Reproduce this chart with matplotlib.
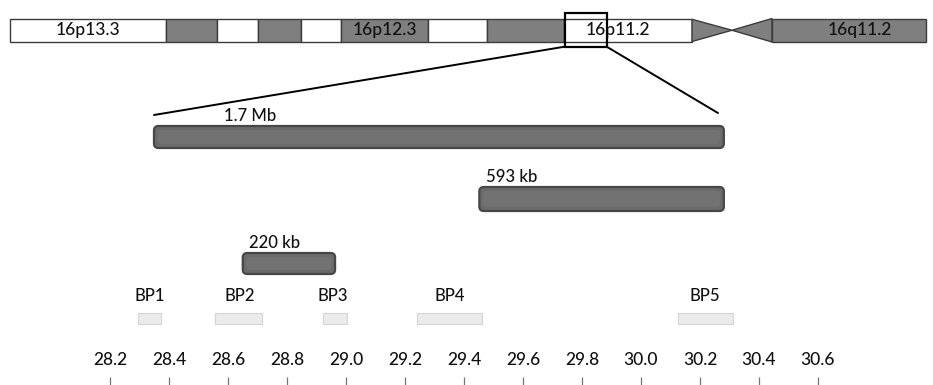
import matplotlib.pyplot as plt
from matplotlib.patches import Rectangle, FancyBboxPatch, Polygon, ConnectionPatch

plt.rcParams['font.family'] = ['Lato', 'DejaVu Sans']

# ideogram of chromosome 16 (drawing units, not to scale)
band_edges = [10, 166, 217, 258, 301, 341, 428, 487, 564, 692]
band_fill = ['white', 'gray', 'white', 'gray', 'white', 'gray', 'white', 'gray', 'white']
band_names = {0: '16p13.3', 5: '16p12.3', 8: '16p11.2'}
cen_left, cen_mid, cen_right = 692, 732, 772
q_end = 926
q_name = '16q11.2'
zoom_band = (564.5, 606.7)

# region in Mb
mb_ticks = [28.2, 28.4, 28.6, 28.8, 29.0, 29.2, 29.4, 29.6, 29.8, 30.0, 30.2, 30.4, 30.6]
del_names = ['1.7 Mb', '593 kb', '220 kb']
del_start = [28.349, 29.452, 28.650]
del_end = [30.281, 30.281, 28.963]
bp_names = ['BP1', 'BP2', 'BP3', 'BP4', 'BP5']
bp_start = [28.296, 28.556, 28.923, 29.240, 30.126]
bp_end = [28.373, 28.716, 29.002, 29.460, 30.313]

GRAY = '#7f7f7f'
EDGE = '#3c3c3c'
TXT = dict(color='#111111', fontweight='medium')

fig = plt.figure(figsize=(9.33, 3.85), dpi=100)

# main axis: x in Mb, y in pixel rows
ax = fig.add_axes([0, 0, 1, 1])
ax.set_xlim(27.827, 30.990)
ax.set_ylim(385, 0)
ax.axis('off')
px = 295.0  # pixels per Mb

del_rows = [(126, 148), (187, 211), (253, 274)]
del_label_x = [250, 512, 275]
for name, s, e, (y0, y1), lx in zip(del_names, del_start, del_end, del_rows, del_label_x):
    bar = FancyBboxPatch((s, y0), e - s, y1 - y0,
                         boxstyle='round,pad=0,rounding_size=0.015',
                         mutation_aspect=px, facecolor='#6a6a6a',
                         edgecolor='#474747', linewidth=1.6, zorder=3)
    ax.add_patch(bar)
    inner = FancyBboxPatch((s + 0.012, y0 + 4), e - s - 0.024, y1 - y0 - 8,
                           boxstyle='round,pad=0,rounding_size=0.01',
                           mutation_aspect=px, facecolor='#727272',
                           edgecolor='none', zorder=3)
    ax.add_patch(inner)
    ax.text(27.827 + lx / px, y0 - 10, name, ha='center', va='center',
            fontsize=12, **TXT)

label_centers = [150, 240, 333, 450, 705]
for name, s, e, lx in zip(bp_names, bp_start, bp_end, label_centers):
    ax.add_patch(Rectangle((s, 313), e - s, 10.5, facecolor='#ebebeb',
                           edgecolor='#d4d4d4', linewidth=0.8))
    ax.text(27.827 + lx / px, 296, name, ha='center', va='center',
            fontsize=12, **TXT)

for t in mb_ticks:
    ax.text(t, 360, f'{t:.1f}', ha='center', va='center', fontsize=12.5, **TXT)
ax.vlines(mb_ticks, 377, 385, color='#777777', linewidth=0.9)

# ideogram axis on top
axi = fig.add_axes([0, 1 - 55 / 385, 1, 55 / 385])
axi.set_xlim(0, 933)
axi.set_ylim(55, 0)
axi.axis('off')
top, bot = 18.5, 42

for i, fill in enumerate(band_fill):
    x0, x1 = band_edges[i], band_edges[i + 1]
    axi.add_patch(Rectangle((x0, top), x1 - x0, bot - top,
                            facecolor=GRAY if fill == 'gray' else 'white',
                            edgecolor=EDGE, linewidth=1.0))
    if i in band_names:
        axi.text((x0 + x1) / 2 - (10 if i == 8 else 0), 30.5, band_names[i],
                 ha='center', va='center', fontsize=12.5, **TXT)

mid_y = (top + bot) / 2
axi.add_patch(Polygon([(cen_left, top + 0.8), (cen_mid, mid_y), (cen_left, bot - 0.5)],
                      closed=True, facecolor=GRAY, edgecolor=EDGE, linewidth=1.0))
axi.add_patch(Polygon([(cen_right, top), (cen_mid, mid_y), (cen_right, bot)],
                      closed=True, facecolor=GRAY, edgecolor=EDGE, linewidth=1.0))
axi.add_patch(Rectangle((cen_right, top), q_end - cen_right, bot - top,
                        facecolor=GRAY, edgecolor=EDGE, linewidth=1.0))
axi.text((cen_right + q_end) / 2 + 11, 30.5, q_name, ha='center', va='center',
         fontsize=12.5, **TXT)

# zoom box around 16p11.2
axi.add_patch(Rectangle((zoom_band[0], 12.7), zoom_band[1] - zoom_band[0], 34,
                        facecolor='none', edgecolor='black', linewidth=1.6, zorder=5))

# connectors from the box to the 1.7 Mb deletion
for bx, mx, my in [(zoom_band[0], del_start[0], 115),
                   (zoom_band[1], del_end[0] - 0.02, 113)]:
    con = ConnectionPatch(xyA=(bx, 46.7), coordsA=axi.transData,
                          xyB=(mx, my), coordsB=ax.transData,
                          color='black', linewidth=1.4)
    fig.add_artist(con)

fig.savefig('out.png', dpi=100)
